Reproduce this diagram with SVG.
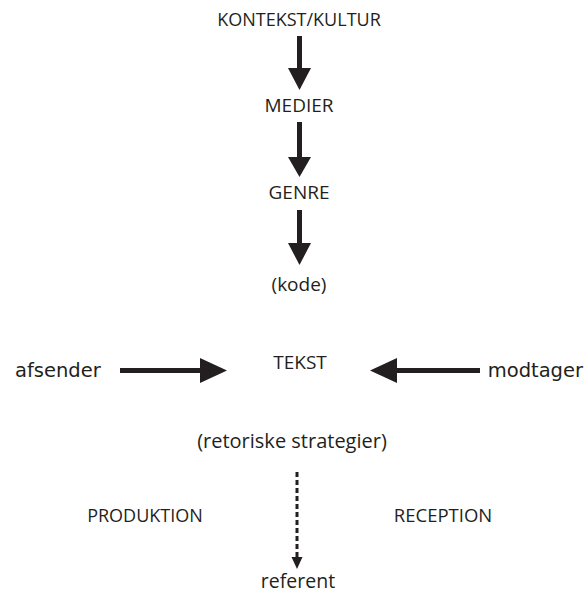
<svg xmlns="http://www.w3.org/2000/svg" width="588" height="593" viewBox="0 0 588 593">
<style>
.t{font-family:"Open Sans","Noto Sans",sans-serif;font-size:18px;fill:#231f20;text-anchor:middle}
.s{font-family:"DejaVu Sans","Verdana",sans-serif;font-size:19.5px;fill:#231f20}
.sh{stroke:#231f20;stroke-width:5;fill:none}
.hd{fill:#231f20}
</style>
<rect width="588" height="593" fill="#fff"/>
<g id="kontekst"><text class="t" x="299" y="26">KONTEKST/KULTUR</text></g>
<g id="medier"><text class="t" x="299" y="112" style="font-size:19px">MEDIER</text></g>
<g id="genre"><text class="t" x="299" y="199" style="font-size:19px">GENRE</text></g>
<g id="kode"><text class="t" x="299" y="291" style="font-size:19px">(kode)</text></g>
<g id="tekst"><text class="t" x="300" y="368.5" style="font-size:19px">TEKST</text></g>
<g id="afsender"><text class="s" x="15" y="377">afsender</text></g>
<g id="modtager"><text class="s" x="583" y="377" text-anchor="end">modtager</text></g>
<g id="retoriske"><text class="t" x="292" y="448" style="font-size:20px">(retoriske strategier)</text></g>
<g id="produktion"><text class="t" x="145" y="522">PRODUKTION</text></g>
<g id="reception"><text class="t" x="443" y="522" style="font-size:18.5px">RECEPTION</text></g>
<g id="referent"><text class="t" x="298" y="588" style="font-size:19.5px">referent</text></g>
<g id="connectors">
<line class="sh" x1="299.5" y1="36" x2="299.5" y2="69"/>
<polygon class="hd" points="288,68 311,68 299.5,90"/>
<line class="sh" x1="299.5" y1="122" x2="299.5" y2="158"/>
<polygon class="hd" points="288,157 311,157 299.5,177"/>
<line class="sh" x1="299.5" y1="210" x2="299.5" y2="244"/>
<polygon class="hd" points="288,243 311,243 299.5,265"/>
<line class="sh" x1="120" y1="370.5" x2="201" y2="370.5"/>
<polygon class="hd" points="200,358 200,383 227,370.5"/>
<line class="sh" x1="396" y1="370.5" x2="480" y2="370.5"/>
<polygon class="hd" points="397,358 397,383 370,370.5"/>
<line x1="297" y1="472" x2="297" y2="559" stroke="#231f20" stroke-width="3" stroke-dasharray="5,3"/>
<polygon class="hd" points="291.5,557 302.5,557 297,569"/>
</g>
</svg>
